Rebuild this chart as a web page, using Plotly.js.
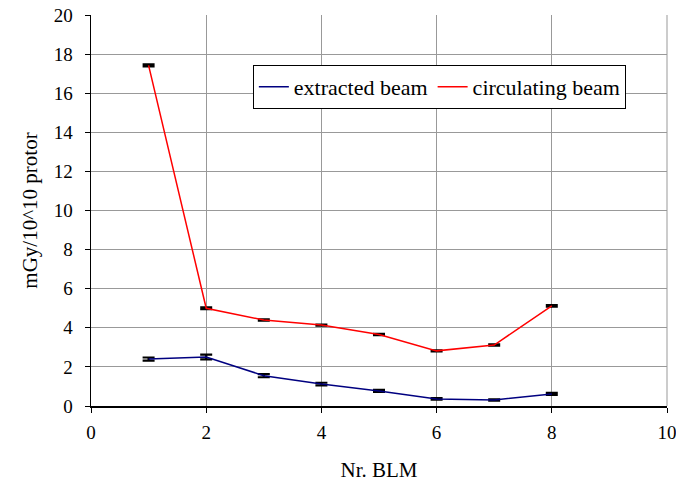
<!DOCTYPE html>
<html>
<head>
<meta charset="utf-8">
<script src="https://cdn.plot.ly/plotly-3.0.1.min.js"></script>
<style>html,body{margin:0;padding:0;background:#fff;}#chart{width:676px;height:484px;}</style>
</head>
<body>
<div id="chart"></div>
<script>
const blm = [1, 2, 3, 4, 5, 6, 7, 8];
const extracted = [2.40, 2.51, 1.55, 1.12, 0.77, 0.36, 0.31, 0.62];
const extractedErr = [0.08, 0.12, 0.08, 0.07, 0.05, 0.04, 0.03, 0.05];
const circulating = [17.42, 5.00, 4.40, 4.14, 3.66, 2.82, 3.12, 5.12];
const circulatingErr = [0.05, 0.04, 0.03, 0.03, 0.03, 0.03, 0.03, 0.04];

const errStyle = {type: 'data', visible: true, color: '#000', thickness: 2.2, width: 6};

const traces = [
  {x: blm, y: extracted, name: 'extracted beam', type: 'scatter', mode: 'lines',
   line: {color: '#000080', width: 1.5},
   error_y: Object.assign({array: extractedErr}, errStyle)},
  {x: blm, y: circulating, name: 'circulating beam', type: 'scatter', mode: 'lines',
   line: {color: '#ff0000', width: 1.5},
   error_y: Object.assign({array: circulatingErr}, errStyle)}
];

const fam = '"Liberation Serif", "Times New Roman", serif';
const tickFont = {family: fam, size: 19, color: '#000'};
const titleFont = {family: fam, size: 21, color: '#000'};
const legendFont = {family: fam, size: 22, color: '#000'};

const layout = {
  width: 676, height: 484,
  margin: {l: 91, r: 9, t: 15, b: 78},
  paper_bgcolor: '#fff', plot_bgcolor: '#fff',
  font: tickFont,
  showlegend: true,
  legend: {x: 0.281, y: 0.872, xanchor: 'left', yanchor: 'top', orientation: 'h',
           bordercolor: '#000', borderwidth: 1, bgcolor: '#fff', font: legendFont,
           tracegroupgap: 0},
  shapes: [{type: 'line', xref: 'paper', yref: 'paper', x0: 1, x1: 1, y0: 0, y1: 1,
            line: {color: '#999', width: 1}, layer: 'below'}],
  xaxis: {range: [0, 10], dtick: 2, tick0: 0, showgrid: true, gridcolor: '#999', gridwidth: 1,
          showline: true, linecolor: '#000', linewidth: 1.5, ticks: 'outside', ticklen: 5,
          tickcolor: '#000', zeroline: false, tickfont: tickFont, ticklabelstandoff: 4,
          ticklabeloverflow: 'allow',
          title: {text: 'Nr. BLM', font: titleFont, standoff: 20}},
  yaxis: {range: [0, 20], dtick: 2, tick0: 0, showgrid: true, gridcolor: '#999', gridwidth: 1,
          showline: true, linecolor: '#000', linewidth: 1.5, ticks: 'outside', ticklen: 5,
          tickcolor: '#000', zeroline: false, tickfont: tickFont, ticklabelstandoff: 8,
          ticklabeloverflow: 'allow',
          title: {text: 'mGy/10^10 protor', font: titleFont, standoff: 10}}
};

Plotly.newPlot('chart', traces, layout, {displayModeBar: false, staticPlot: true});
</script>
</body>
</html>
